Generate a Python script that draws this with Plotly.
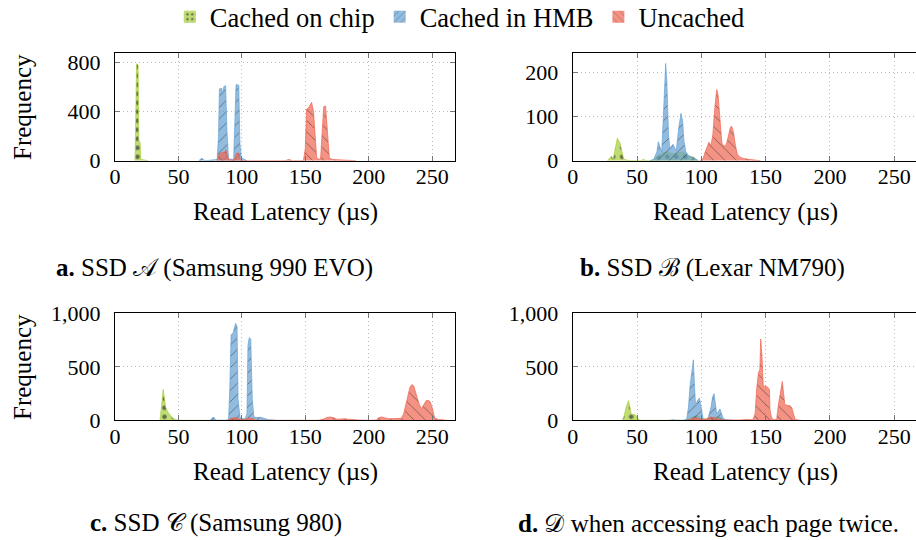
import plotly.graph_objects as go

FONT = "Liberation Serif, Times New Roman, serif"
W, H = 916, 540

# ---------------- data (read latency in µs, frequency) ----------------
# Panel a: SSD A (Samsung 990 EVO)
green_a_x = [15.8, 16.5, 17.0, 18.2, 18.8, 19.8, 20.3, 22, 25, 26]
green_a_y = [0, 780, 790, 780, 165, 150, 12, 8, 3, 0]
blue_a_x = [66, 68.5, 71, 80.5, 81.6, 82.3, 84.2, 85.0, 85.8, 87.2, 88.2, 89.5, 93.5, 94.6, 95.4, 97.6, 98.4, 99.5, 102, 104]
blue_a_y = [0, 20, 0, 10, 200, 585, 590, 540, 605, 610, 250, 15, 10, 300, 620, 615, 150, 25, 10, 0]
red_a_x = [80.5, 82, 84, 86.5, 87.5, 88.5, 90, 94, 95.5, 97.5, 98.8, 100, 134, 137, 140,
           148.5, 150, 151, 152.5, 154, 155, 156.5, 157.5, 159, 162, 163, 164.5, 166, 167.5, 169, 172, 180, 190]
red_a_y = [0, 55, 65, 70, 88, 40, 5, 5, 60, 62, 10, 0, 0, 10, 0,
           0, 100, 420, 430, 460, 475, 400, 250, 20, 10, 200, 440, 445, 250, 20, 10, 5, 0]

# Panel b: SSD B (Lexar NM790)
green_b_x = [27, 29, 30, 31.5, 33, 34.7, 36.8, 38, 39.5, 41, 45, 53, 55, 57, 62, 66, 70, 74, 78, 82, 86, 90, 94, 97]
green_b_y = [0, 8, 10, 4, 30, 51, 40, 25, 5, 2, 0, 0, 3, 0, 0, 10, 18, 20, 15, 18, 20, 10, 8, 0]
blue_b_x = [60, 63, 65.5, 66.6, 68, 69.2, 70.5, 71.5, 72.3, 73.2, 74.5, 75.5, 77, 78, 79.5, 80.5, 82.5, 84.2, 85.5, 86.5, 88, 90, 93, 96, 98]
blue_b_y = [0, 3, 20, 43, 30, 20, 100, 190, 220, 180, 60, 28, 33, 37, 28, 22, 75, 107, 90, 45, 20, 12, 8, 4, 0]
red_b_x = [99, 101.5, 103, 105, 106, 107.5, 109, 110.5, 112, 113, 114.5, 116, 117.5, 119.2, 121, 122.5, 123.6, 125, 126.5, 128, 130, 133, 137, 142, 146]
red_b_y = [0, 5, 20, 38, 42, 34, 60, 120, 161, 150, 90, 40, 33, 35, 55, 75, 78, 65, 35, 15, 8, 5, 3, 2, 0]

# Panel c: SSD C (Samsung 980)
green_c_x = [35.5, 37, 38, 39, 40, 41.5, 43.3, 45, 47, 49, 52, 88, 91, 94, 97, 100, 103, 106, 110]
green_c_y = [0, 150, 288, 200, 120, 80, 45, 25, 10, 3, 0, 0, 12, 15, 10, 8, 12, 8, 0]
blue_c_x = [75, 77.4, 80, 88, 89.5, 90.5, 91.5, 93, 94, 95, 96.2, 97, 98.5, 100, 102.4, 104, 104.8, 105.8, 107, 108.2, 109.5, 112, 115, 118, 121, 125, 127]
blue_c_y = [0, 31, 0, 0, 0, 300, 800, 812, 870, 906, 880, 200, 30, 15, 15, 60, 700, 772, 760, 200, 30, 25, 28, 15, 5, 3, 0]
red_c_x = [88, 92, 95, 97, 100, 103, 105.5, 108, 111, 160, 164, 167, 169.3, 172, 175, 178, 181, 184, 187.6, 192, 200,
           206, 208, 210, 213, 216.5, 220, 225.7, 227.5, 229.5, 231, 232.5, 234, 235.5, 237.5, 239.5, 241.5, 243.5,
           245.4, 247, 248.5, 250, 252, 255, 258.5, 262]
red_c_y = [0, 20, 25, 15, 5, 10, 22, 20, 0, 0, 10, 25, 31, 25, 10, 12, 15, 10, 5, 3, 0,
           3, 25, 31, 22, 15, 16, 18, 60, 150, 240, 310, 334, 320, 240, 160, 109, 150,
           187, 185, 172, 120, 20, 8, 3, 0]

# Panel d: D when accessing each page twice
green_d_x = [38.5, 40, 41.5, 42.5, 43.3, 44.2, 45.5, 47, 49, 50.5, 52, 88, 91, 94, 96, 99, 102, 106, 110, 113, 116, 120]
green_d_y = [0, 40, 120, 150, 183, 140, 60, 55, 50, 20, 0, 0, 20, 35, 45, 30, 10, 15, 25, 35, 20, 0]
blue_d_x = [75, 78, 81, 86, 88.6, 90, 91.2, 92.5, 93.8, 94.8, 95.6, 96.8, 97.6, 98.5, 99.5, 100.5, 101.5, 104, 105.5,
            107.5, 108.8, 109.9, 111, 112, 113.2, 114.5, 115.8, 117.1, 119, 125]
blue_d_y = [0, 5, 0, 0, 10, 120, 317, 420, 565, 300, 130, 180, 200, 208, 150, 60, 10, 5, 30,
            120, 220, 249, 150, 60, 80, 106, 60, 15, 5, 0]
red_d_x = [88, 92, 95, 98, 101, 104, 107, 110, 114, 118, 125, 130, 135, 140, 141.8, 143.1, 144.5, 145.5, 146.2, 147.2,
           148.2, 150, 151.5, 153, 153.4, 154.5, 156, 158.6, 160, 161.5, 163, 164, 165, 167, 169, 170.3, 171.5, 172.9, 175, 178]
red_d_y = [0, 10, 25, 15, 8, 12, 30, 25, 10, 3, 0, 3, 8, 5, 60, 300, 450, 470, 760, 600,
           317, 320, 310, 290, 100, 30, 5, 10, 150, 270, 363, 250, 146, 140, 135, 120, 60, 10, 3, 0]

series_names = ["Cached on chip", "Cached in HMB", "Uncached"]
captions = ["<b>a.</b> SSD 𝒜 (Samsung 990 EVO)", "<b>b.</b> SSD ℬ (Lexar NM790)",
            "<b>c.</b> SSD 𝒞 (Samsung 980)", "<b>d.</b> 𝒟 when accessing each page twice."]
x_title = "Read Latency (µs)"
y_title = "Frequency"

panels = [
    [(green_a_x, green_a_y), (blue_a_x, blue_a_y), (red_a_x, red_a_y)],
    [(green_b_x, green_b_y), (blue_b_x, blue_b_y), (red_b_x, red_b_y)],
    [(green_c_x, green_c_y), (blue_c_x, blue_c_y), (red_c_x, red_c_y)],
    [(green_d_x, green_d_y), (blue_d_x, blue_d_y), (red_d_x, red_d_y)],
]

styles = [
    dict(fill="rgba(166,206,57,0.70)", line="rgba(166,206,57,0.85)", shape=".", size=9, sol=0.2),
    dict(fill="rgba(100,160,210,0.70)", line="rgba(100,160,210,0.85)", shape="/", size=8, sol=0.1),
    dict(fill="rgba(240,100,80,0.70)", line="rgba(240,100,80,0.85)", shape="\\", size=8, sol=0.1),
]
FG = "rgba(50,50,50,0.65)"

fig = go.Figure()
for i, panel in enumerate(panels):
    xa = "x" if i == 0 else f"x{i+1}"
    ya = "y" if i == 0 else f"y{i+1}"
    for j, (xs, ys) in enumerate(panel):
        st = styles[j]
        fig.add_trace(go.Scatter(
            x=xs, y=ys, mode="lines", fill="tozeroy",
            fillcolor=st["fill"],
            line=dict(color=st["line"], width=0.8),
            fillpattern=dict(shape=st["shape"], fgcolor=FG, bgcolor=st["fill"],
                             size=st["size"], solidity=st["sol"], fillmode="replace"),
            name=series_names[j], legendgroup=series_names[j], showlegend=False,
            xaxis=xa, yaxis=ya, hoverinfo="skip"))

# legend-only entries (rectangular patterned swatches)
for j, name in enumerate(series_names):
    st = styles[j]
    fig.add_trace(go.Bar(
        x=[None], y=[None], name=name, legendgroup=name, showlegend=True,
        marker=dict(color=st["fill"], line=dict(width=0),
                    pattern=dict(shape=st["shape"], fgcolor=FG, bgcolor=st["fill"],
                                 size=6, solidity=st["sol"], fillmode="replace")),
        xaxis="x", yaxis="y", hoverinfo="skip"))

XL = [115 / W, 455 / W]
XR = [572.7 / W, 1.0]
YT = [1 - 160.7 / H, 1 - 53.3 / H]
YB = [1 - 420.3 / H, 1 - 313.3 / H]

tickfont = dict(family=FONT, size=22, color="black")
common = dict(showline=True, linecolor="black", linewidth=1, ticks="inside", ticklen=5, tickcolor="#777",
              showgrid=True, gridcolor="#b8b8b8", griddash="1px,3px", gridwidth=1, zeroline=False,
              tickfont=tickfont, fixedrange=True)

x_ranges = [[0, 268], [0, 266.95], [0, 268], [0, 266.95]]
x_domains = [XL, XR, XL, XR]
y_domains = [YT, YT, YB, YB]
y_ranges = [[0, 875], [0, 243], [0, 1000], [0, 1000]]
y_dticks = [400, 100, 500, 500]

layout_axes = {}
for i in range(4):
    xk = "xaxis" if i == 0 else f"xaxis{i+1}"
    yk = "yaxis" if i == 0 else f"yaxis{i+1}"
    xa = "x" if i == 0 else f"x{i+1}"
    ya = "y" if i == 0 else f"y{i+1}"
    layout_axes[xk] = dict(common, domain=x_domains[i], range=x_ranges[i], dtick=50, tick0=0,
                           anchor=ya, mirror="ticks", ticklabelstandoff=-4)
    layout_axes[yk] = dict(common, domain=y_domains[i], range=y_ranges[i], dtick=y_dticks[i], tick0=0,
                           anchor=xa, tickformat=",", mirror=("ticks" if i % 2 == 0 else False),
                           ticklabelstandoff=9)

fig.update_layout(**layout_axes)

ann = []
title_font = dict(family=FONT, size=25, color="black")
title_pos = [(285, 212), (745, 212), (285, 472), (745, 472)]
for (px, py) in title_pos:
    ann.append(dict(text=x_title, x=px / W, y=1 - py / H, xref="paper", yref="paper",
                    showarrow=False, font=title_font, xanchor="center", yanchor="middle"))
for py in (107, 367):
    ann.append(dict(text=y_title, x=22 / W, y=1 - py / H, xref="paper", yref="paper", textangle=-90,
                    showarrow=False, font=title_font, xanchor="center", yanchor="middle"))
cap_pos = [(214.5, 268), (712, 268), (216, 523), (708, 523)]
for cap, (px, py) in zip(captions, cap_pos):
    ann.append(dict(text=cap, x=px / W, y=1 - py / H, xref="paper", yref="paper",
                    showarrow=False, font=title_font, xanchor="center", yanchor="middle"))

fig.update_layout(
    width=W, height=H,
    margin=dict(l=0, r=0, t=0, b=0, autoexpand=False),
    paper_bgcolor="white", plot_bgcolor="white",
    font=dict(family=FONT, size=25, color="black"),
    annotations=ann,
    showlegend=True,
    barmode="overlay",
    legend=dict(orientation="h", x=0.502, xanchor="center", y=1.013, yanchor="top",
                font=dict(family=FONT, size=26.5, color="black"), bgcolor="rgba(0,0,0,0)",
                itemwidth=30, tracegroupgap=0),
)

fig.write_html("out.html", config={"displayModeBar": False},
               post_script="document.body.style.margin='0px';document.body.style.overflow='hidden';")
